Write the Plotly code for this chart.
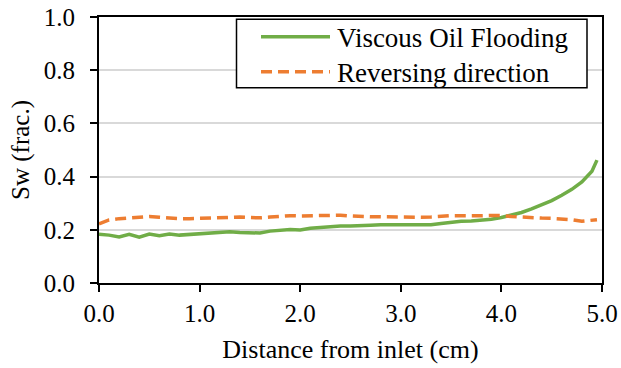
import plotly.graph_objects as go

distance = [0.0, 0.1, 0.2, 0.3, 0.4, 0.5, 0.6, 0.7, 0.8, 0.9,
            1.0, 1.1, 1.2, 1.3, 1.4, 1.5, 1.6, 1.7, 1.8, 1.9,
            2.0, 2.1, 2.2, 2.3, 2.4, 2.5, 2.6, 2.7, 2.8, 2.9,
            3.0, 3.1, 3.2, 3.3, 3.4, 3.5, 3.6, 3.7, 3.8, 3.9,
            4.0, 4.1, 4.2, 4.3, 4.4, 4.5, 4.6, 4.7, 4.8, 4.9, 4.95]

viscous_oil = [0.183, 0.180, 0.173, 0.183, 0.172, 0.184, 0.178, 0.184, 0.180, 0.182,
               0.184, 0.188, 0.190, 0.193, 0.190, 0.190, 0.188, 0.195, 0.198, 0.201,
               0.199, 0.206, 0.209, 0.213, 0.214, 0.214, 0.214, 0.217, 0.219, 0.219,
               0.221, 0.222, 0.219, 0.219, 0.224, 0.229, 0.232, 0.233, 0.236, 0.240,
               0.246, 0.254, 0.265, 0.279, 0.294, 0.310, 0.330, 0.352, 0.380, 0.420, 0.462]

reversing = [0.222, 0.237, 0.242, 0.244, 0.246, 0.250, 0.247, 0.244, 0.242, 0.242,
             0.243, 0.246, 0.248, 0.249, 0.248, 0.246, 0.245, 0.248, 0.252, 0.253,
             0.252, 0.253, 0.255, 0.256, 0.255, 0.252, 0.249, 0.249, 0.249, 0.248,
             0.246, 0.247, 0.247, 0.248, 0.251, 0.253, 0.253, 0.252, 0.253, 0.254,
             0.254, 0.250, 0.247, 0.245, 0.244, 0.243, 0.241, 0.238, 0.232, 0.236, 0.238]

series_names = ["Viscous Oil Flooding", "Reversing direction"]
colors = ["#70AD47", "#ED7D31"]
dashes = ["solid", "11px,6px"]

FONT = "Liberation Serif"

fig = go.Figure()
for name, vals, col, dash in zip(series_names, [viscous_oil, reversing], colors, dashes):
    fig.add_trace(go.Scatter(x=distance, y=vals, mode="lines", name=name,
                             line=dict(color=col, width=3.5, dash=dash),
                             showlegend=False))

# Manual legend (box, line samples, labels)
W, H = 503.0, 266.0
def px(x):
    return (x - 99) / W
def py(y):
    return (283.3 - y) / H

shapes = [dict(type="rect", xref="paper", yref="paper",
               x0=px(236.5), x1=px(587), y0=py(88), y1=py(19.5),
               line=dict(color="black", width=1.5), fillcolor="white", layer="above")]
annots = []
for i, (name, col, dash) in enumerate(zip(series_names, colors, dashes)):
    yy = 37 + i * 35
    shapes.append(dict(type="line", xref="paper", yref="paper",
                       x0=px(261), x1=px(330), y0=py(yy), y1=py(yy),
                       line=dict(color=col, width=3.5, dash=dash), layer="above"))
    annots.append(dict(xref="paper", yref="paper", x=px(335), y=py(yy + 1),
                       text=name, showarrow=False, xanchor="left", yanchor="middle",
                       font=dict(family=FONT, size=27, color="black")))

fig.update_layout(
    width=621, height=368,
    margin=dict(l=99, r=19, t=17, b=85, autoexpand=False),
    paper_bgcolor="white", plot_bgcolor="white",
    font=dict(family=FONT, size=25, color="black"),
    shapes=shapes, annotations=annots,
)
fig.update_xaxes(range=[0, 5], dtick=1, tickformat=".1f", automargin=False,
                 showline=True, linecolor="black", linewidth=1.8, mirror=True,
                 ticks="outside", ticklen=7, tickwidth=1.5, tickcolor="black",
                 showgrid=False, zeroline=False,
                 title=dict(text="Distance from inlet (cm)", font=dict(family=FONT, size=26), standoff=14),
                 tickfont=dict(family=FONT, size=25))
fig.update_yaxes(range=[0, 1], dtick=0.2, tickformat=".1f", automargin=False,
                 showline=True, linecolor="black", linewidth=1.8, mirror=True,
                 ticks="outside", ticklen=7, tickwidth=1.5, tickcolor="black",
                 showgrid=True, gridcolor="#D9D9D9", gridwidth=1.5, zeroline=False,
                 title=dict(text="Sw (frac.)", font=dict(family=FONT, size=25), standoff=7),
                 tickfont=dict(family=FONT, size=25), ticklabelstandoff=10)

fig.write_html("out.html")
